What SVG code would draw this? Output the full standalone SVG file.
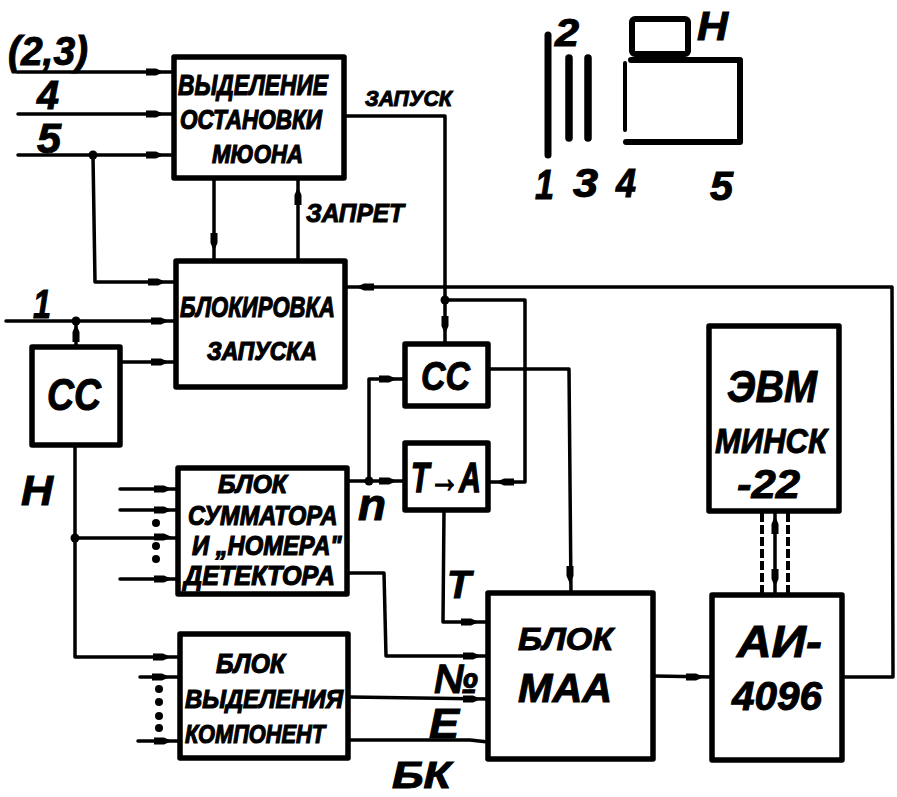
<svg xmlns="http://www.w3.org/2000/svg" width="897" height="797" viewBox="0 0 897 797">
<style>
text{font-family:"Liberation Sans",Arial,sans-serif;font-weight:bold;font-style:italic;fill:#000;stroke:#000;stroke-width:1}
text.n{font-family:"Liberation Sans Narrow","Liberation Sans",Arial,sans-serif;stroke-width:1.2}
.b{fill:#fff;stroke:#000;stroke-width:5.5;stroke-linejoin:round}
.c{fill:none;stroke:#000;stroke-width:3.5;stroke-linejoin:round;stroke-linecap:round}
.d{fill:none;stroke:#000;stroke-width:4;stroke-dasharray:9 3}
.s{fill:none;stroke:#000;stroke-linecap:round;stroke-linejoin:round}
</style>
<defs>
<path id="r" d="M-9-3.5H1L9 0L1 3.5H-9Z"/>
<path id="l" d="M9-3.5H-1L-9 0L-1 3.5H9Z"/>
<path id="u" d="M-3.5 9V-1L0-9L3.5-1V9Z"/>
<path id="w" d="M-3.5-9V1L0 9L3.5 1V-9Z"/>
<circle id="j" r="4.5"/>
<circle id="o" r="4"/>
</defs>
<rect width="897" height="797" fill="#fff"/>

<g id="connectors">
<path class="c" d="M18 72H173M18 114H173M18 155H173M93 155L95 282H177M214 178V261M298 178V261"/>
<path class="c" d="M346 116H445V344M346 287H892L893 677H843M445 300H525V482H490"/>
<path class="c" d="M6 321H177M76 321V347M120 362H177M488 369H569L571 593"/>
<path class="c" d="M75 445V657H179M75 538H179M120 489H179M120 510H179M120 579H179M140 677H179M138 741H179"/>
<path class="c" d="M348 481H405M369 481V379H405M444 510L443 622H488M349 573H384L386 656H488M350 697L488 699M350 740H470L488 742M654 676L712 677"/>
<path class="c" d="M775 511V595"/>
<path class="d" d="M762 513V595M788 513V595"/>
<use href="#r" x="155" y="72"/><use href="#r" x="155" y="114"/><use href="#r" x="155" y="155"/>
<use href="#r" x="157" y="282"/><use href="#r" x="160" y="321"/><use href="#r" x="160" y="362"/>
<use href="#w" x="214" y="242"/><use href="#u" x="298" y="196"/>
<use href="#l" x="365" y="287"/><use href="#w" x="445" y="325"/><use href="#l" x="505" y="482"/>
<use href="#w" x="570" y="575"/><use href="#u" x="76" y="333"/>
<use href="#r" x="163" y="489"/><use href="#r" x="163" y="510"/><use href="#r" x="163" y="537"/><use href="#r" x="163" y="579"/>
<use href="#r" x="162" y="657"/><use href="#r" x="161" y="677"/><use href="#r" x="163" y="741"/>
<use href="#r" x="388" y="481"/><use href="#r" x="388" y="379"/><use href="#r" x="470" y="622"/>
<use href="#r" x="472" y="656"/><use href="#r" x="472" y="699"/><use href="#r" x="695" y="677"/>
<use href="#u" x="775" y="525"/><use href="#w" x="775" y="578"/>
<use href="#j" x="93" y="155"/><use href="#j" x="76" y="321"/><use href="#j" x="445" y="300"/><use href="#j" x="75" y="538"/><use href="#j" x="369" y="481"/>
<use href="#o" x="156" y="523"/><use href="#o" x="156" y="546"/><use href="#o" x="156" y="559"/>
<use href="#o" x="159" y="689"/><use href="#o" x="159" y="702"/><use href="#o" x="159" y="716"/><use href="#o" x="159" y="728"/>
</g>

<g id="node-vydelenie">
<rect class="b" x="174" y="57" width="170" height="121"/>
<text class="n" x="178" y="95" font-size="29" textLength="150" lengthAdjust="spacingAndGlyphs">ВЫДЕЛЕНИЕ</text>
<text class="n" x="180" y="129" font-size="27" textLength="142" lengthAdjust="spacingAndGlyphs">ОСТАНОВКИ</text>
<text class="n" x="212" y="163" font-size="26" textLength="91" lengthAdjust="spacingAndGlyphs">МЮОНА</text>
</g>
<g id="node-blokirovka">
<rect class="b" x="176" y="261" width="169" height="126"/>
<text class="n" x="180" y="317" font-size="30" textLength="155" lengthAdjust="spacingAndGlyphs">БЛОКИРОВКА</text>
<text class="n" x="207" y="360" font-size="26" textLength="110" lengthAdjust="spacingAndGlyphs">ЗАПУСКА</text>
</g>
<g id="node-cc-left">
<rect class="b" x="32" y="347" width="88" height="98"/>
<text x="47" y="410" font-size="44" textLength="54" lengthAdjust="spacingAndGlyphs">СС</text>
</g>
<g id="node-summator">
<rect class="b" x="178" y="468" width="169" height="126"/>
<text class="n" x="218" y="493" font-size="26" textLength="69" lengthAdjust="spacingAndGlyphs">БЛОК</text>
<text class="n" transform="translate(188 525) scale(.8 1)" font-size="28" textLength="187" lengthAdjust="spacingAndGlyphs">СУММАТОРА</text>
<text class="n" transform="translate(192 555) scale(.8 1)" font-size="27" textLength="187" lengthAdjust="spacingAndGlyphs">И „НОМЕРА"</text>
<text class="n" x="184" y="585" font-size="27" textLength="151" lengthAdjust="spacingAndGlyphs">ДЕТЕКТОРА</text>
</g>
<g id="node-komponent">
<rect class="b" x="180" y="634" width="168" height="124"/>
<text class="n" x="216" y="673" font-size="28" textLength="69" lengthAdjust="spacingAndGlyphs">БЛОК</text>
<text class="n" x="185" y="708" font-size="26" textLength="158" lengthAdjust="spacingAndGlyphs">ВЫДЕЛЕНИЯ</text>
<text class="n" x="185" y="743" font-size="26" textLength="140" lengthAdjust="spacingAndGlyphs">КОМПОНЕНТ</text>
</g>
<g id="node-cc-mid">
<rect class="b" x="405" y="344" width="83" height="62"/>
<text x="421" y="390" font-size="40" textLength="49" lengthAdjust="spacingAndGlyphs">СС</text>
</g>
<g id="node-ta">
<rect class="b" x="405" y="443" width="83" height="67"/>
<text x="411" y="492" font-size="42" textLength="70" lengthAdjust="spacingAndGlyphs" style="stroke-width:1.5">Т→А</text>
</g>
<g id="node-maa">
<rect class="b" x="488" y="593" width="165" height="166"/>
<text x="518" y="650" font-size="32" textLength="95" lengthAdjust="spacingAndGlyphs">БЛОК</text>
<text x="518" y="702" font-size="40" textLength="94" lengthAdjust="spacingAndGlyphs">МАА</text>
</g>
<g id="node-evm">
<rect class="b" x="709" y="326" width="130" height="185"/>
<text x="727" y="402" font-size="44" textLength="90" lengthAdjust="spacingAndGlyphs">ЭВМ</text>
<text x="715" y="453" font-size="35" textLength="112" lengthAdjust="spacingAndGlyphs">МИНСК</text>
<text x="737" y="498" font-size="41" textLength="63" lengthAdjust="spacingAndGlyphs">-22</text>
</g>
<g id="node-ai">
<rect class="b" x="712" y="595" width="130" height="165"/>
<text x="737" y="657" font-size="44" textLength="85" lengthAdjust="spacingAndGlyphs">АИ-</text>
<text x="732" y="710" font-size="41" textLength="90" lengthAdjust="spacingAndGlyphs">4096</text>
</g>

<g id="labels">
<text x="8" y="65" font-size="40" textLength="80" lengthAdjust="spacingAndGlyphs">(2,3)</text>
<text x="37" y="109" font-size="40" textLength="22" lengthAdjust="spacingAndGlyphs">4</text>
<text x="37" y="153" font-size="42" textLength="24" lengthAdjust="spacingAndGlyphs">5</text>
<text x="33" y="318" font-size="41" textLength="18" lengthAdjust="spacingAndGlyphs">1</text>
<text x="365" y="106" font-size="22" textLength="87" lengthAdjust="spacingAndGlyphs">ЗАПУСК</text>
<text x="306" y="222" font-size="26" textLength="98" lengthAdjust="spacingAndGlyphs">ЗАПРЕТ</text>
<text x="21" y="505" font-size="43" textLength="32" lengthAdjust="spacingAndGlyphs">Н</text>
<text x="358" y="520" font-size="44" textLength="28" lengthAdjust="spacingAndGlyphs">n</text>
<text x="447" y="598" font-size="39" textLength="24" lengthAdjust="spacingAndGlyphs">Т</text>
<text x="434" y="693" font-size="41" textLength="44" lengthAdjust="spacingAndGlyphs">№</text>
<text x="429" y="738" font-size="42" textLength="30" lengthAdjust="spacingAndGlyphs">Е</text>
<text x="392" y="788" font-size="36" textLength="59" lengthAdjust="spacingAndGlyphs">БК</text>
</g>

<g id="detector-sketch">
<path class="s" stroke-width="7" d="M548 35V155"/>
<path class="s" stroke-width="7.5" d="M569 58V138M588 58V138"/>
<path class="s" stroke-width="4" d="M625 63V130"/>
<path class="s" stroke-width="6" d="M631 60H740V142H626"/>
<rect x="632" y="19" width="56" height="35" rx="3" fill="none" stroke="#000" stroke-width="6"/>
<text x="555" y="46" font-size="38" textLength="24" lengthAdjust="spacingAndGlyphs">2</text>
<text x="697" y="40" font-size="41" textLength="31" lengthAdjust="spacingAndGlyphs">Н</text>
<text x="535" y="199" font-size="42" textLength="19" lengthAdjust="spacingAndGlyphs">1</text>
<text x="573" y="197" font-size="40" textLength="25" lengthAdjust="spacingAndGlyphs">3</text>
<text x="616" y="197" font-size="40" textLength="20" lengthAdjust="spacingAndGlyphs">4</text>
<text x="710" y="200" font-size="40" textLength="23" lengthAdjust="spacingAndGlyphs">5</text>
</g>
</svg>
